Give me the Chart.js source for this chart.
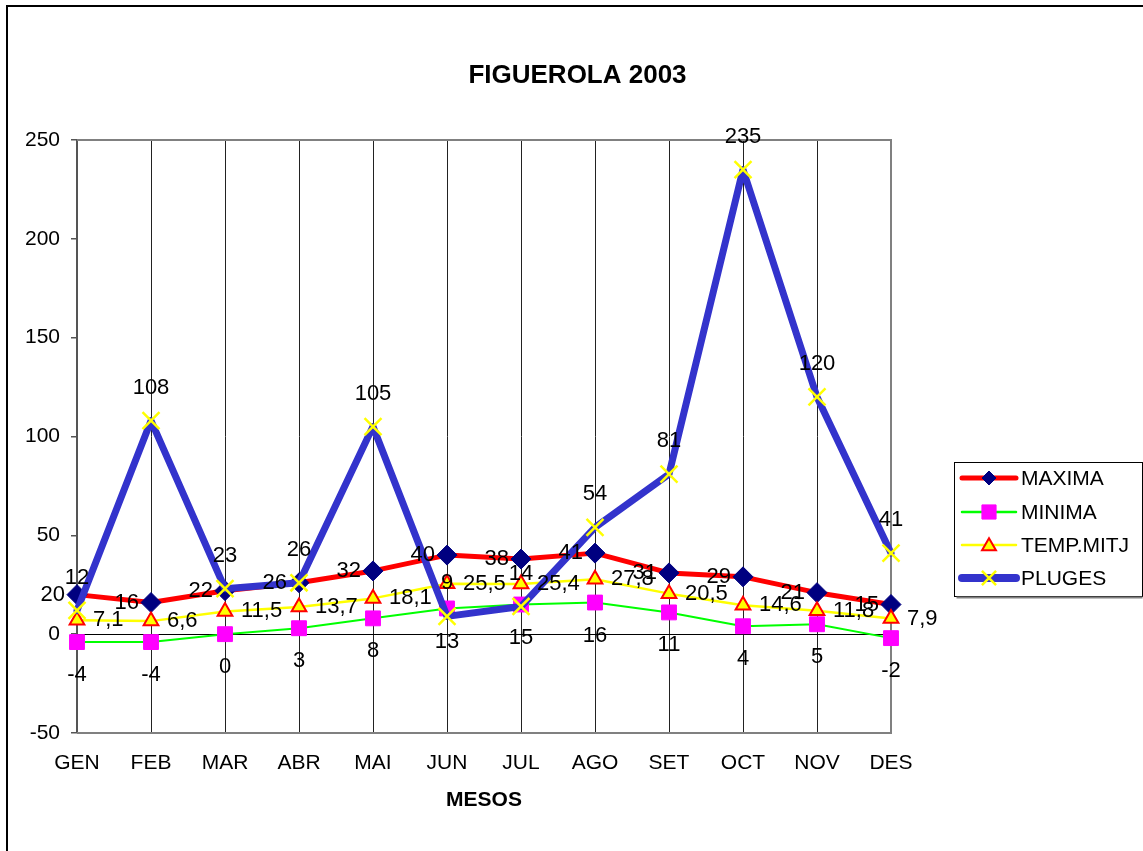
<!DOCTYPE html>
<html>
<head>
<meta charset="utf-8">
<script src="https://cdn.jsdelivr.net/npm/chart.js@4"></script>
<style>
  html, body { margin: 0; padding: 0; background: #fff; }
  #wrap { width: 1143px; height: 851px; position: relative; }
</style>
</head>
<body>
<div id="wrap"><canvas id="c" width="1143" height="851"></canvas></div>
<script>
const categories = ['GEN','FEB','MAR','ABR','MAI','JUN','JUL','AGO','SET','OCT','NOV','DES'];
const maxima   = [20, 16, 22, 26, 32, 40, 38, 41, 31, 29, 21, 15];
const minima   = [-4, -4, 0, 3, 8, 13, 15, 16, 11, 4, 5, -2];
const tempMitj = [7.1, 6.6, 11.5, 13.7, 18.1, 25.5, 25.4, 27.8, 20.5, 14.6, 11.8, 7.9];
const pluges   = [12, 108, 23, 26, 105, 9, 14, 54, 81, 235, 120, 41];
const yMin = -50, yMax = 250, yStep = 50;

const FONT = "'Liberation Sans', Arial, Helvetica, sans-serif";

function fmt(v) { return String(v).replace('.', ','); }

function drawMarker(ctx, style, x, y, r, fill, stroke, bw) {
  ctx.save();
  ctx.beginPath();
  if (style === 'rectRot') {
    ctx.moveTo(x - r, y); ctx.lineTo(x, y - r); ctx.lineTo(x + r, y); ctx.lineTo(x, y + r); ctx.closePath();
  } else if (style === 'rect') {
    const s = r * Math.SQRT1_2;
    ctx.rect(x - s, y - s, 2 * s, 2 * s);
  } else if (style === 'triangle') {
    ctx.moveTo(x, y - r * 0.85); ctx.lineTo(x + r * 0.87, y + r * 0.65); ctx.lineTo(x - r * 0.87, y + r * 0.65); ctx.closePath();
  } else if (style === 'crossRot') {
    const s = r * Math.SQRT1_2;
    ctx.moveTo(x - s, y - s); ctx.lineTo(x + s, y + s);
    ctx.moveTo(x + s, y - s); ctx.lineTo(x - s, y + s);
  }
  if (style !== 'crossRot') { ctx.fillStyle = fill; ctx.fill(); }
  if (bw > 0) { ctx.lineWidth = bw; ctx.strokeStyle = stroke; ctx.stroke(); }
  ctx.restore();
}

const framePlugin = {
  id: 'frame',
  beforeDraw(chart) {
    const ctx = chart.ctx;
    ctx.save();
    ctx.strokeStyle = '#000';
    ctx.lineWidth = 2;
    ctx.strokeRect(7, 6, 1400, 1200);
    ctx.restore();
  },
  beforeDatasetsDraw(chart) {
    const ctx = chart.ctx, a = chart.chartArea;
    const y = chart.scales.y;
    ctx.save();
    ctx.strokeStyle = '#808080';
    ctx.lineWidth = 2;
    ctx.beginPath();
    ctx.moveTo(a.left, a.top); ctx.lineTo(a.right, a.top); ctx.lineTo(a.right, a.bottom); ctx.lineTo(a.left, a.bottom);
    ctx.stroke();
    const y0 = Math.round(y.getPixelForValue(0)) + 0.5;
    ctx.strokeStyle = '#000';
    ctx.lineWidth = 1;
    ctx.beginPath();
    ctx.moveTo(a.left, y0); ctx.lineTo(a.right, y0);
    ctx.stroke();
    ctx.restore();
  }
};

const labelPlugin = {
  id: 'pointLabels',
  afterDatasetsDraw(chart) {
    const ctx = chart.ctx;
    ctx.save();
    ctx.font = '22px ' + FONT;
    ctx.fillStyle = '#000';
    chart.data.datasets.forEach((ds, i) => {
      const meta = chart.getDatasetMeta(i);
      meta.data.forEach((pt, j) => {
        const t = fmt(ds.data[j]);
        let x = pt.x, yy = pt.y;
        ctx.textBaseline = 'middle';
        if (ds.labelPos === 'left') { ctx.textAlign = 'right'; x -= 12; }
        else if (ds.labelPos === 'right') { ctx.textAlign = 'left'; x += 16; }
        else if (ds.labelPos === 'above') { ctx.textAlign = 'center'; yy -= 33; }
        else { ctx.textAlign = 'center'; yy += 33; }
        ctx.fillText(t, x, yy);
      });
    });
    ctx.restore();
  }
};

const legendPlugin = {
  id: 'customLegend',
  afterDraw(chart) {
    const ctx = chart.ctx;
    const bx = 954.5, by = 462.5, bw = 188, bh = 134;
    ctx.save();
    ctx.fillStyle = '#fff';
    ctx.fillRect(bx, by, bw, bh);
    ctx.strokeStyle = '#000';
    ctx.lineWidth = 1;
    ctx.strokeRect(bx, by, bw, bh);
    ctx.strokeStyle = '#808080';
    ctx.lineWidth = 2;
    ctx.beginPath(); ctx.moveTo(bx + 2, by + bh + 1); ctx.lineTo(bx + bw, by + bh + 1); ctx.stroke();
    const rows = [478, 512, 545, 578];
    chart.data.datasets.forEach((ds, i) => {
      const yy = rows[i];
      ctx.save();
      ctx.strokeStyle = ds.borderColor;
      ctx.lineWidth = ds.legendLineWidth;
      ctx.lineCap = 'round';
      ctx.beginPath(); ctx.moveTo(962, yy); ctx.lineTo(1016, yy); ctx.stroke();
      ctx.restore();
      drawMarker(ctx, ds.pointStyle, 989, yy, ds.legendRadius, ds.pointBackgroundColor, ds.pointBorderColor, ds.pointBorderWidth);
      ctx.fillStyle = '#000';
      ctx.font = '21px ' + FONT;
      ctx.textAlign = 'left';
      ctx.textBaseline = 'middle';
      ctx.fillText(ds.label, 1021, yy + 1);
    });
    ctx.restore();
  }
};

new Chart(document.getElementById('c'), {
  type: 'line',
  data: {
    labels: categories,
    datasets: [
      { label: 'MAXIMA', data: maxima, borderColor: '#FF0000', borderWidth: 5,
        pointStyle: 'rectRot', pointRadius: 10, pointBackgroundColor: '#000080', pointBorderColor: '#000080', pointBorderWidth: 1,
        labelPos: 'left', legendLineWidth: 5, legendRadius: 7, order: 3, tension: 0 },
      { label: 'MINIMA', data: minima, borderColor: '#00FF00', borderWidth: 2,
        pointStyle: 'rect', pointRadius: 10.5, pointBackgroundColor: '#FF00FF', pointBorderColor: '#FF00FF', pointBorderWidth: 1,
        labelPos: 'below', legendLineWidth: 2.5, legendRadius: 10, order: 2, tension: 0 },
      { label: 'TEMP.MITJ', data: tempMitj, borderColor: '#FFFF00', borderWidth: 2.5,
        pointStyle: 'triangle', pointRadius: 8.5, pointBackgroundColor: '#FFFF00', pointBorderColor: '#FF0000', pointBorderWidth: 2,
        labelPos: 'right', legendLineWidth: 2.5, legendRadius: 8, order: 1, tension: 0 },
      { label: 'PLUGES', data: pluges, borderColor: '#3333CC', borderWidth: 7,
        pointStyle: 'crossRot', pointRadius: 12, pointBackgroundColor: '#FFFF00', pointBorderColor: '#FFFF00', pointBorderWidth: 2.5,
        labelPos: 'above', legendLineWidth: 8, legendRadius: 10, order: 0, tension: 0 }
    ]
  },
  options: {
    responsive: false,
    animation: false,
    devicePixelRatio: 1,
    layout: { padding: { left: 12, right: 0, top: 0, bottom: 0 } },
    plugins: {
      legend: { display: false },
      tooltip: { enabled: false },
      title: {
        display: true, text: 'FIGUEROLA 2003', color: '#000',
        font: { family: FONT, size: 26, weight: 'bold' },
        padding: { top: 60, bottom: 48.8 }
      }
    },
    elements: { line: { borderJoinStyle: 'round', borderCapStyle: 'round' } },
    scales: {
      x: {
        offset: false,
        grid: { color: '#222', lineWidth: 1, drawTicks: false, drawOnChartArea: true },
        border: { display: false },
        ticks: { color: '#000', font: { family: FONT, size: 21 }, padding: 18, maxRotation: 0, autoSkip: false },
        title: { display: true, text: 'MESOS', color: '#000', font: { family: FONT, size: 21, weight: 'bold' }, padding: { top: 10, bottom: 37.8 } },
        afterFit(s) { s.height = 118; }
      },
      y: {
        min: yMin, max: yMax,
        grid: { drawOnChartArea: false, drawTicks: true, tickLength: 6, color: '#555', lineWidth: 1.5 },
        border: { display: true, color: '#555', width: 2 },
        ticks: { stepSize: yStep, color: '#000', font: { family: FONT, size: 21 }, padding: 11 },
        afterFit(s) { s.width = 65; }
      },
      yPad: {
        position: 'right', display: true,
        grid: { display: false }, border: { display: false }, ticks: { display: false },
        afterFit(s) { s.width = 252; }
      }
    }
  },
  plugins: [framePlugin, labelPlugin, legendPlugin]
});
</script>
</body>
</html>
